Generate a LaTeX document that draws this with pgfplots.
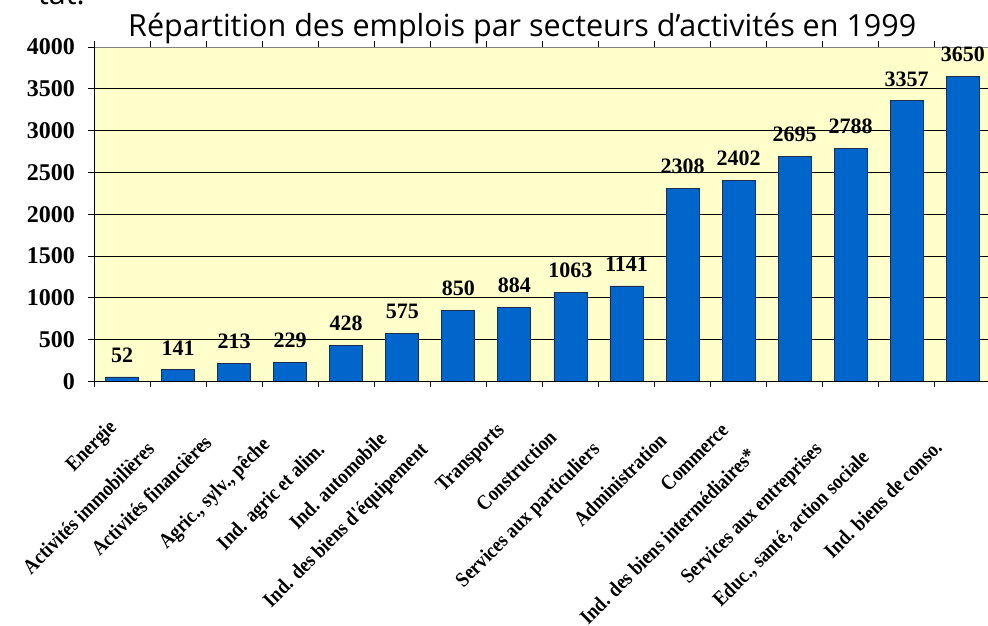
\documentclass[border=0pt]{standalone}
\usepackage{fontspec}
\setmainfont{Liberation Serif}
\newfontfamily\titlefont{Open Sans}
\newfontfamily\labfont[FakeStretch=0.88]{Liberation Serif}
\usepackage{pgfplots}
\pgfplotsset{compat=1.18}
\definecolor{barblue}{HTML}{0066CC}
\definecolor{baredge}{HTML}{1A2F50}
\definecolor{bgyellow}{HTML}{FFFFCC}
\newcommand{\lab}[4]{\node[rotate=45, anchor=north east, inner sep=0pt, font=\labfont\fontsize{21}{21}\selectfont\bfseries] at ([xshift=#2pt,yshift=-#3pt]axis cs:#1,0) {#4};}
\begin{document}
\begin{tikzpicture}[x=1pt,y=1pt]
\begin{axis}[
  at={(94pt,243.7pt)}, anchor=south west,
  scale only axis, width=896.8pt, height=334.3pt,
  xmin=0, xmax=16, ymin=0, ymax=4000,
  ybar, bar width=33pt, bar shift=0pt,
  xtick={0,...,16}, xticklabel=\empty,
  ytick={0,500,...,4000},
  tick align=outside, major tick length=6pt,
  tick style={black, line width=0.8pt},
  ymajorgrids, grid style={black, line width=0.8pt},
  axis line style={draw=gray, line width=0.8pt},
  axis background/.style={fill=bgyellow},
  yticklabel style={font=\fontsize{24}{24}\selectfont\bfseries, inner sep=0pt, xshift=-13pt},
  /pgf/number format/assume math mode=true,
  /pgf/number format/1000 sep={},
  nodes near coords,
  every node near coord/.append style={font=\fontsize{22}{22}\selectfont\bfseries, inner sep=0pt, yshift=14pt, anchor=south},
  clip=false,
]
\addplot[fill=barblue, draw=baredge, line width=0.8pt] coordinates {
  (0.5,52) (1.5,141) (2.5,213) (3.5,229) (4.5,428) (5.5,575) (6.5,850) (7.5,884)
  (8.5,1063) (9.5,1141) (10.5,2308) (11.5,2402) (12.5,2695) (13.5,2788) (14.5,3357) (15.5,3650)
};
\draw[gray, line width=0.8pt] (axis cs:0,4000) -- (axis cs:16,4000);
\draw[black, line width=1pt] (axis cs:0,4000) -- (axis cs:0,0) -- (axis cs:16,0);
\lab{0.5}{-15}{37}{Energie}
\lab{1.5}{-33}{59}{Activités immobilières}
\lab{2.5}{-32}{52}{Activités financières}
\lab{3.5}{-30}{54}{Agric., sylv., pêche}
\lab{4.5}{-31}{59}{Ind. agric et alim.}
\lab{5.5}{-25}{49}{Ind. automobile}
\lab{6.5}{-40}{59}{Ind. des biens d'équipement}
\lab{7.5}{-19}{40}{Transports}
\lab{8.5}{-23}{47}{Construction}
\lab{9.5}{-36}{59}{Services aux particuliers}
\lab{10.5}{-25}{50}{Administration}
\lab{11.5}{-19}{40}{Commerce}
\lab{12.5}{-48}{65}{Ind. des biens intermédiaires*}
\lab{13.5}{-38}{59}{Services aux entreprises}
\lab{14.5}{-47}{67}{Educ., santé, action sociale}
\lab{15.5}{-30}{57}{Ind. biens de conso.}
\end{axis}
\node[anchor=base west, inner sep=0pt, font=\titlefont\fontsize{30.5}{30.5}\selectfont] at (128,588) {Répartition des emplois par secteurs d’activités en 1999};
\node[anchor=base west, inner sep=0pt, font=\titlefont\fontsize{30.5}{30.5}\selectfont] at (38,620) {tat.};
\pgfresetboundingbox
\useasboundingbox (0,0) rectangle (988,625);
\end{tikzpicture}
\end{document}
